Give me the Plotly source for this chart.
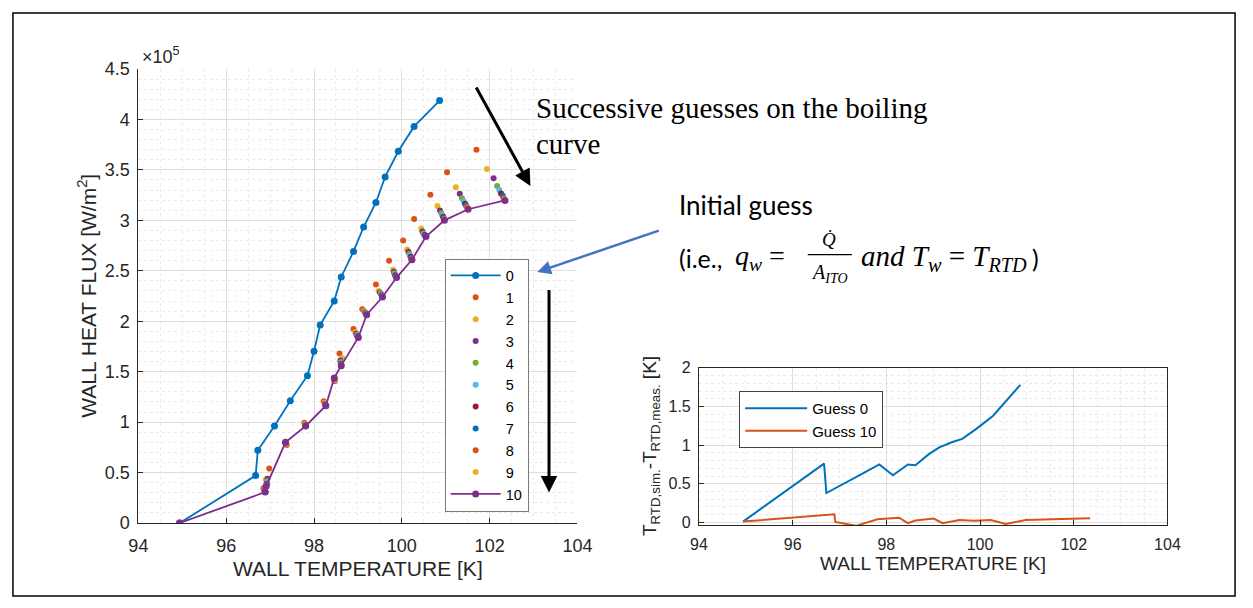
import plotly.graph_objects as go

W, H = 1253, 608


def px(x):
    return x / W


def py(y):
    return 1 - y / H


# ---------------- data (heat flux in units of 1e5 W/m^2) ----------------
T_G0 = [94.94, 96.67, 96.72, 97.10, 97.46, 97.85, 98.00, 98.14, 98.46, 98.62,
        98.90, 99.13, 99.41, 99.62, 99.92, 100.28, 100.86]
Q_G0 = [0.00, 0.470, 0.722, 0.962, 1.211, 1.460, 1.703, 1.962, 2.200, 2.439,
        2.692, 2.934, 3.177, 3.430, 3.685, 3.931, 4.187]

T_G1 = [94.94, 96.85, 96.98, 97.38, 97.78, 98.22, 98.47, 98.58, 98.90, 99.10,
        99.41, 99.71, 100.03, 100.28, 100.65, 101.03, 101.70]
Q_G1 = [0.00, 0.345, 0.540, 0.773, 0.994, 1.208, 1.406, 1.681, 1.923, 2.120,
        2.363, 2.600, 2.800, 3.014, 3.254, 3.477, 3.700]

T_G2 = [94.94, 96.87, 96.90, 97.37, 97.79, 98.24, 98.47, 98.64, 98.94, 99.14,
        99.47, 99.80, 100.12, 100.44, 100.81, 101.23, 101.94]
Q_G2 = [0.00, 0.331, 0.431, 0.783, 0.982, 1.191, 1.418, 1.636, 1.891, 2.099,
        2.300, 2.510, 2.710, 2.920, 3.142, 3.328, 3.510]

T_G3 = [94.94, 96.87, 96.94, 97.36, 97.80, 98.25, 98.46, 98.60, 98.96, 99.16,
        99.50, 99.82, 100.15, 100.47, 100.87, 101.32, 102.09]
Q_G3 = [0.00, 0.323, 0.438, 0.789, 0.975, 1.182, 1.425, 1.611, 1.875, 2.088,
        2.285, 2.490, 2.689, 2.890, 3.098, 3.264, 3.417]

T_G4 = [94.94, 96.88, 96.93, 97.36, 97.80, 98.26, 98.46, 98.61, 98.98, 99.17,
        99.52, 99.83, 100.17, 100.49, 100.90, 101.37, 102.17]
Q_G4 = [0.00, 0.318, 0.417, 0.792, 0.972, 1.177, 1.428, 1.596, 1.865, 2.082,
        2.277, 2.475, 2.666, 2.870, 3.070, 3.220, 3.340]

T_G5 = [94.94, 96.88, 96.93, 97.36, 97.80, 98.26, 98.46, 98.61, 98.99, 99.18,
        99.53, 99.84, 100.19, 100.51, 100.92, 101.41, 102.22]
Q_G5 = [0.00, 0.315, 0.403, 0.794, 0.969, 1.173, 1.431, 1.587, 1.858, 2.077,
        2.267, 2.465, 2.651, 2.860, 3.050, 3.190, 3.300]

T_G6 = [94.94, 96.88, 96.92, 97.35, 97.81, 98.26, 98.46, 98.61, 98.99, 99.19,
        99.54, 99.85, 100.20, 100.52, 100.94, 101.44, 102.26]
Q_G6 = [0.00, 0.313, 0.390, 0.796, 0.967, 1.170, 1.433, 1.578, 1.852, 2.073,
        2.258, 2.455, 2.638, 2.855, 3.035, 3.165, 3.267]

T_G7 = [94.94, 96.89, 96.92, 97.35, 97.81, 98.27, 98.46, 98.62, 99.00, 99.19,
        99.55, 99.86, 100.21, 100.53, 100.95, 101.46, 102.30]
Q_G7 = [0.00, 0.311, 0.382, 0.797, 0.965, 1.168, 1.435, 1.572, 1.848, 2.071,
        2.252, 2.447, 2.628, 2.850, 3.025, 3.150, 3.244]

T_G8 = [94.94, 96.89, 96.91, 97.35, 97.81, 98.27, 98.46, 98.62, 99.00, 99.19,
        99.55, 99.87, 100.22, 100.54, 100.96, 101.48, 102.32]
Q_G8 = [0.00, 0.309, 0.375, 0.798, 0.964, 1.166, 1.436, 1.567, 1.845, 2.068,
        2.247, 2.441, 2.620, 2.845, 3.015, 3.135, 3.220]

T_G9 = [94.94, 96.89, 96.91, 97.35, 97.81, 98.27, 98.46, 98.62, 99.01, 99.20,
        99.56, 99.87, 100.22, 100.55, 100.97, 101.50, 102.34]
Q_G9 = [0.00, 0.308, 0.369, 0.799, 0.963, 1.164, 1.437, 1.564, 1.842, 2.067,
        2.244, 2.437, 2.615, 2.842, 3.008, 3.120, 3.206]

T_G10 = [94.94, 96.89, 96.91, 97.35, 97.81, 98.27, 98.46, 98.62, 99.01, 99.20,
         99.56, 99.88, 100.23, 100.55, 100.97, 101.51, 102.35]
Q_G10 = [0.00, 0.307, 0.364, 0.800, 0.962, 1.163, 1.438, 1.560, 1.840, 2.065,
         2.240, 2.433, 2.609, 2.840, 3.000, 3.110, 3.197]

# RTD residual (T_RTD,sim - T_RTD,meas) [K] for guesses 0 and 10
RES_G0 = [0.01, 0.76, 0.38, 0.50, 0.62, 0.75, 0.68, 0.61, 0.75, 0.74,
          0.88, 0.97, 1.04, 1.08, 1.21, 1.38, 1.78]
RES_G10 = [0.01, 0.105, 0.005, -0.045, 0.04, 0.06, -0.01, 0.025, 0.05, -0.01,
           0.03, 0.02, 0.03, -0.02, 0.03, 0.04, 0.055]

GUESS_LABELS = ["0", "1", "2", "3", "4", "5", "6", "7", "8", "9", "10"]
X_TICKS = [94, 96, 98, 100, 102, 104]
Y_TICKS_MAIN = [0, 0.5, 1, 1.5, 2, 2.5, 3, 3.5, 4, 4.5]
Y_TICKS_SMALL = [0, 0.5, 1, 1.5, 2]

COLORS = ["#0072BD", "#D95319", "#EDB120", "#7E2F8E", "#77AC30", "#4DBEEE",
          "#A2142F", "#0072BD", "#D95319", "#EDB120", "#7E2F8E"]

GUESS_T = [T_G0, T_G1, T_G2, T_G3, T_G4, T_G5, T_G6, T_G7, T_G8, T_G9, T_G10]
GUESS_Q = [Q_G0, Q_G1, Q_G2, Q_G3, Q_G4, Q_G5, Q_G6, Q_G7, Q_G8, Q_G9, Q_G10]

AX = "#262626"
FONT = "Liberation Sans, Arial, sans-serif"

fig = go.Figure()

for k in range(11):
    if k in (0, 10):
        fig.add_trace(go.Scatter(
            x=GUESS_T[k], y=GUESS_Q[k], mode="lines+markers", name=GUESS_LABELS[k],
            line=dict(color=COLORS[k], width=1.8),
            marker=dict(size=7, color=COLORS[k]),
            xaxis="x", yaxis="y", legend="legend"))
    else:
        fig.add_trace(go.Scatter(
            x=GUESS_T[k], y=GUESS_Q[k], mode="markers", name=GUESS_LABELS[k],
            marker=dict(size=6, color=COLORS[k]),
            xaxis="x", yaxis="y", legend="legend"))

fig.add_trace(go.Scatter(x=T_G0, y=RES_G0, mode="lines", name="Guess 0",
                         line=dict(color="#0072BD", width=2),
                         xaxis="x2", yaxis="y2", legend="legend2"))
fig.add_trace(go.Scatter(x=T_G10, y=RES_G10, mode="lines", name="Guess 10",
                         line=dict(color="#D95319", width=2),
                         xaxis="x2", yaxis="y2", legend="legend2"))

common = dict(
    showline=True, linecolor=AX, linewidth=1,
    ticks="inside", ticklen=5, tickcolor=AX, tickwidth=1,
    showgrid=True, gridcolor="#dedede", gridwidth=1,
    zeroline=False,
    tickfont=dict(family=FONT, size=18, color=AX),
)
small_font = dict(family=FONT, size=16, color=AX)

fig.update_layout(
    width=W, height=H, autosize=False,
    margin=dict(l=0, r=0, t=0, b=0),
    paper_bgcolor="white", plot_bgcolor="white",
    showlegend=True,
    xaxis=dict(domain=[px(131), px(579)], range=[94, 104], tickvals=X_TICKS,
               anchor="y", mirror=False, ticklabelstandoff=6,
               minor=dict(dtick=0.5, showgrid=True, gridcolor="#ebebeb", griddash="dot"),
               **common),
    yaxis=dict(domain=[py(530.5), py(61)], range=[0, 4.5], tickvals=Y_TICKS_MAIN,
               anchor="x", mirror=False, ticklabelstandoff=4,
               minor=dict(dtick=0.1, showgrid=True, gridcolor="#ebebeb", griddash="dot"),
               **common),
    xaxis2=dict(domain=[px(703), px(1181)], range=[94, 104], tickvals=X_TICKS,
                anchor="y2", mirror=True, ticklabelstandoff=4,
                minor=dict(dtick=0.5, showgrid=True, gridcolor="#ebebeb", griddash="dot"),
                **{**common, "tickfont": small_font}),
    yaxis2=dict(domain=[py(533), py(370)], range=[-0.04, 2], tickvals=Y_TICKS_SMALL,
                anchor="x2", mirror=True, ticklabelstandoff=4,
                minor=dict(dtick=0.1, showgrid=True, gridcolor="#ebebeb", griddash="dot"),
                **{**common, "tickfont": small_font}),
    legend=dict(x=px(443.5), y=py(257), xanchor="left", yanchor="top",
                bgcolor="white", bordercolor="#7a7a7a", borderwidth=1,
                font=dict(family=FONT, size=14.5, color="#000"),
                tracegroupgap=0, itemwidth=50),
    legend2=dict(x=px(744), y=py(394), xanchor="left", yanchor="top",
                 bgcolor="white", bordercolor="#444", borderwidth=1,
                 font=dict(family=FONT, size=15, color="#000"),
                 tracegroupgap=0, itemwidth=62),
)

ann = []


def text(x, y, s, size, family=FONT, color="#000", xanchor="left", yanchor="middle", angle=0):
    ann.append(dict(x=px(x), y=py(y), xref="paper", yref="paper", text=s, showarrow=False,
                    xanchor=xanchor, yanchor=yanchor, textangle=angle,
                    font=dict(family=family, size=size, color=color)))


def arrow(x_tip, y_tip, x_tail, y_tail, color, width, size=1.0):
    ann.append(dict(x=px(x_tip), y=py(y_tip), xref="paper", yref="paper", text="",
                    showarrow=True, ax=x_tail - x_tip, ay=y_tail - y_tip,
                    arrowhead=2, arrowsize=size, arrowwidth=width, arrowcolor=color))


# axis titles and exponent
text(355, 578, "WALL TEMPERATURE [K]", 21, color=AX, xanchor="center")
text(79, 295, "WALL HEAT FLUX [W/m<sup>2</sup>]", 21, color=AX, xanchor="center", angle=-90)
text(133, 47, "×10<sup>5</sup>", 18, color=AX)
text(942, 572, "WALL TEMPERATURE [K]", 19, color=AX, xanchor="center")
text(654, 451, "T<sub>RTD,sim.</sub>-T<sub>RTD,meas.</sub> [K]", 19, color=AX,
     xanchor="center", angle=-90)

# annotations
SERIF = "Liberation Serif, Times New Roman, serif"
SANS2 = "Lato, Open Sans, sans-serif"
text(535, 101, "Successive guesses on the boiling", 29, family=SERIF)
text(535, 139, "curve", 29, family=SERIF)
text(681, 202, "Initial guess", 26, family=SANS2)
text(681, 256, "(i.e.,", 25, family=SANS2)
text(738, 256, "<i>q</i><sub><i>w</i></sub> =", 28, family=SERIF)
text(836, 237, "<i>Q̇</i>", 19, family=SERIF, xanchor="center")
text(836, 272, "<i>A</i><sub><i>ITO</i></sub>", 20, family=SERIF, xanchor="center")
text(866, 256, "<i>and T</i><sub><i>w</i></sub> = <i>T</i><sub><i>RTD</i></sub>", 29, family=SERIF)
text(1041, 256, ")", 25, family=SANS2)

arrow(531, 182, 476, 82, "black", 3, 1.1)
arrow(538, 271, 661, 229, "#4472C4", 2.5, 1.1)
arrow(550, 499, 550, 295, "black", 3, 1.1)

fig.update_layout(annotations=ann)

fig.add_shape(type="line", xref="paper", yref="paper",
              x0=px(814), x1=px(859), y0=py(253), y1=py(253),
              line=dict(color="black", width=1.3))
fig.add_shape(type="rect", xref="paper", yref="paper",
              x0=px(3), x1=px(1250), y0=py(606), y1=py(3),
              line=dict(color="black", width=1.5))

fig.write_html("out.html")
